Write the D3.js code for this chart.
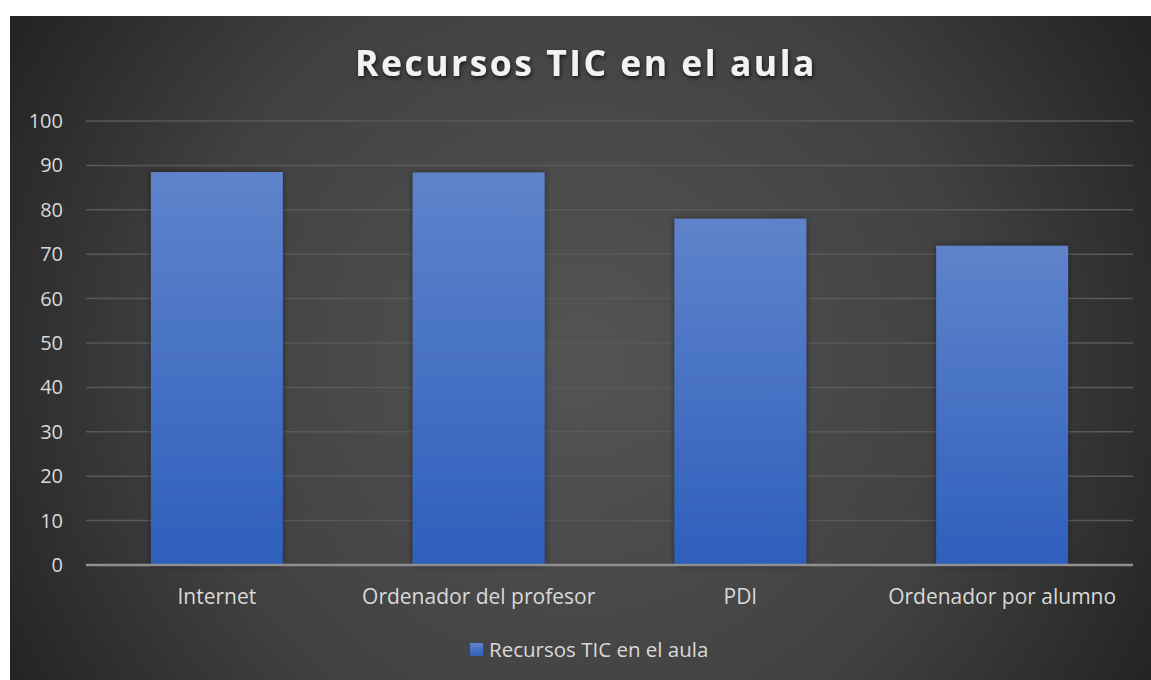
<!DOCTYPE html>
<html>
<head>
<meta charset="utf-8">
<script src="https://cdn.jsdelivr.net/npm/d3@7"></script>
<style>
  body { margin: 0; background: #fff; }
  svg text { font-family: "Open Sans", "Noto Sans", sans-serif; }
</style>
</head>
<body>
<svg id="chart" width="1151" height="680"></svg>
<script>
// data
var categories = ["Internet", "Ordenador del profesor", "PDI", "Ordenador por alumno"];
var values = [88.5, 88.4, 78.0, 71.9];
var yTicks = [0, 10, 20, 30, 40, 50, 60, 70, 80, 90, 100];
var seriesName = "Recursos TIC en el aula";
var chartTitle = "Recursos TIC en el aula";

var svg = d3.select("#chart");
var defs = svg.append("defs");

// panel background, radial
var bg = defs.append("radialGradient").attr("id", "bgGrad")
    .attr("gradientUnits", "userSpaceOnUse")
    .attr("cx", 580).attr("cy", 360).attr("r", 720);
bg.append("stop").attr("offset", "0%").attr("stop-color", "#545454");
bg.append("stop").attr("offset", "55%").attr("stop-color", "#414141");
bg.append("stop").attr("offset", "100%").attr("stop-color", "#1c1c1c");

var barGrad = defs.append("linearGradient").attr("id", "barGrad")
    .attr("x1", 0).attr("y1", 0).attr("x2", 0).attr("y2", 1);
barGrad.append("stop").attr("offset", "0%").attr("stop-color", "#5f83cb");
barGrad.append("stop").attr("offset", "100%").attr("stop-color", "#2e5fbc");

var shadow = defs.append("filter").attr("id", "barShadow")
    .attr("x", "-20%").attr("y", "-20%").attr("width", "140%").attr("height", "140%");
shadow.append("feDropShadow").attr("dx", 0).attr("dy", 0).attr("stdDeviation", 3)
    .attr("flood-color", "#000").attr("flood-opacity", 0.45);

var tshadow = defs.append("filter").attr("id", "titleShadow")
    .attr("x", "-10%").attr("y", "-30%").attr("width", "120%").attr("height", "160%");
tshadow.append("feDropShadow").attr("dx", 1).attr("dy", 2).attr("stdDeviation", 2)
    .attr("flood-color", "#000").attr("flood-opacity", 0.7);

svg.append("rect").attr("x", 10).attr("y", 16)
    .attr("width", 1141).attr("height", 664)
    .attr("fill", "url(#bgGrad)");

var margin = {left: 86, right: 1133, top: 121, bottom: 565};

var x = d3.scaleBand().domain(categories)
    .range([margin.left, margin.right])
    .paddingInner(0.496).paddingOuter(0.248);
var y = d3.scaleLinear().domain([0, 100]).range([margin.bottom, margin.top]);

// gridlines
svg.append("g").selectAll("line").data(yTicks.filter(function (d) { return d > 0; }))
    .enter().append("line")
    .attr("x1", margin.left).attr("x2", margin.right)
    .attr("y1", function (d) { return y(d); }).attr("y2", function (d) { return y(d); })
    .attr("stroke", "#595959").attr("stroke-width", 1.5);

// y axis labels
var yAxis = d3.axisLeft(y).tickValues(yTicks).tickSize(0).tickPadding(0);
var yg = svg.append("g").attr("transform", "translate(63,0)").call(yAxis);
yg.select(".domain").remove();
yg.selectAll("text").attr("fill", "#d9d9d9").style("font-size", "20px");

// bars
svg.append("g").selectAll("rect").data(values).enter().append("rect")
    .attr("x", function (d, i) { return x(categories[i]); })
    .attr("width", x.bandwidth())
    .attr("y", function (d) { return y(d); })
    .attr("height", function (d) { return y(0) - y(d); })
    .attr("fill", "url(#barGrad)")
    .attr("filter", "url(#barShadow)");

// x axis
var xAxis = d3.axisBottom(x).tickSize(0).tickPadding(0);
var xg = svg.append("g").attr("transform", "translate(0," + y(0) + ")").call(xAxis);
xg.select(".domain").remove();
xg.selectAll("text").attr("fill", "#d9d9d9").style("font-size", "21px")
    .attr("dy", null).attr("y", 39);
svg.append("line").attr("x1", margin.left).attr("x2", margin.right)
    .attr("y1", y(0)).attr("y2", y(0))
    .attr("stroke", "#8f8f8f").attr("stroke-width", 2.5);

// title
svg.append("text").attr("x", 586).attr("y", 76)
    .attr("text-anchor", "middle")
    .attr("fill", "#f2f2f2")
    .style("font-size", "35.5px").style("font-weight", "bold")
    .style("letter-spacing", "2.5px")
    .attr("filter", "url(#titleShadow)")
    .text(chartTitle);

// legend
var lg = svg.append("g").attr("transform", "translate(470,643)");
lg.append("rect").attr("width", 13).attr("height", 13).attr("fill", "url(#barGrad)");
lg.append("text").attr("x", 19).attr("y", 13.5)
    .attr("fill", "#d9d9d9").style("font-size", "20.5px")
    .text(seriesName);
</script>
</body>
</html>
